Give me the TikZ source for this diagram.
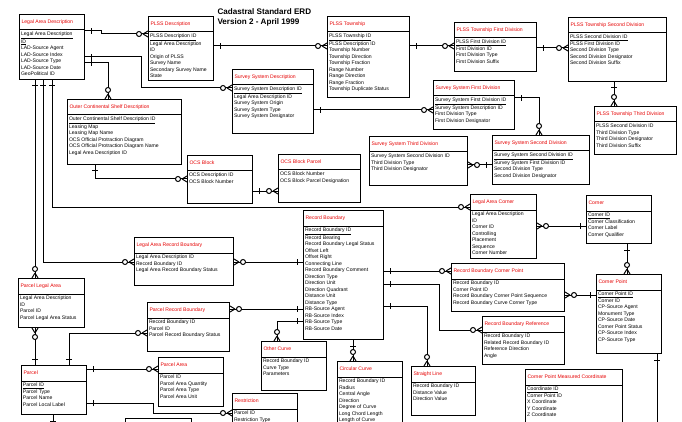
\documentclass[tikz,border=0pt]{standalone}
\usepackage{fontspec}
\setmainfont{Liberation Sans}
\usetikzlibrary{decorations.markings}
\begin{document}
\begin{tikzpicture}[x=1pt, y=-1pt, line width=1pt,
  every node/.style = {font=\fontsize{5.1}{6.5}\selectfont},
  entity/.style = {draw, rectangle, anchor=north west, inner sep=0pt},
  head/.style = {anchor=west, inner sep=0pt, text=red!90!black},
  attrs/.style = {anchor=north west, inner sep=0pt, align=left},
  one/.style = {postaction={decorate, decoration={markings,
    mark=at position 6pt with {\draw (0pt,-3pt) -- (0pt,3pt);}}}},
  onemany/.style = {one, postaction={decorate, decoration={markings,
    mark=at position 1 with {\draw (-5pt,0pt) -- (0pt,3pt) (-5pt,0pt) -- (0pt,-3pt);
      \draw[fill=white] (-9pt,0pt) circle (2.5pt);}}}}]
  \useasboundingbox (0,0) rectangle (682,422);
  \clip (0,0) rectangle (682,422);
  \node[anchor=north west, inner sep=0pt, align=left,
    font=\fontsize{8.1}{9.8}\selectfont\bfseries] (title) at (217,8)
    {Cadastral Standard ERD\\Version 2 - April 1999};
  \foreach \n/\x/\y/\w/\h/\ttl/\atts in {
    lad/19/14/65/65/{Legal Area Description}/{\underline{Legal Area Description}\\\underline{ID}\\LAD-Source Agent\\LAD-Source Index\\LAD-Source Type\\LAD-Source Date\\GeoPolitical ID},
    plssd/148/16/65/64/{PLSS Description}/{\underline{PLSS Description ID}\\Legal Area Description\\ID\\Origin of PLSS\\Survey Name\\Secondary Survey Name\\State},
    plsst/327/16/82/81/{PLSS Township}/{\underline{PLSS Township ID}\\PLSS Description ID\\Township Number\\Township Direction\\Township Fraction\\Range Number\\Range Direction\\Range Fraction\\Township Duplicate Status},
    plssfirst/454/22/82/49/{PLSS Township First Division}/{\underline{PLSS First Division ID}\\First Division ID\\First Division Type\\First Division Suffix},
    plsssecond/568/17/98/64/{PLSS Township Second Division}/{\underline{PLSS Second Division ID}\\PLSS First Division ID\\Second Division Type\\Second Division Designator\\Second Division Suffix},
    plssthird/594/106/82/48/{PLSS Township Third Division}/{PLSS Second Division ID\\Third Division Type\\Third Division Designator\\Third Division Suffix},
    ssd/232/69/81/64/{Survey System Description}/{\underline{Survey System Description ID}\\Legal Area Description ID\\Survey System Origin\\Survey System Type\\Survey System Designator},
    ssfirst/433/80/81/49/{Survey System First Division}/{\underline{Survey System First Division ID}\\Survey System Description ID\\First Division Type\\First Division Designator},
    sssecond/492/135/97/49/{Survey System Second Division}/{\underline{Survey System Second Division ID}\\Survey System First Division ID\\Second Division Type\\Second Division Designator},
    ssthird/369/136/98/49/{Survey System Third Division}/{Survey System Second Division ID\\Third Division Type\\Third Division Designator},
    ocsd/67/99/114/65/{Outer Continental Shelf Description}/{\underline{Outer Continental Shelf Description ID}\\Leasing Map\\Leasing Map Name\\OCS Official Protraction Diagram\\OCS Official Protraction Diagram Name\\Legal Area Description ID},
    ocsblock/187/155/65/48/{OCS Block}/{OCS Description ID\\OCS Block Number},
    ocsparcel/278/154/82/48/{OCS Block Parcel}/{OCS Block Number\\OCS Block Parcel Designation},
    larb/134/237/99/48/{Legal Area Record Boundary}/{Legal Area Description ID\\Record Boundary ID\\Legal Area Record Boundary Status},
    rb/303/210/80/129/{Record Boundary}/{\underline{Record Boundary ID}\\Record Bearing\\Record Boundary Legal Status\\Offset Left\\Offset Right\\Connecting Line\\Record Boundary Comment\\Direction Type\\Direction Unit\\Direction Quadrant\\Distance Unit\\Distance Type\\RB-Source Agent\\RB-Source Index\\RB-Source Type\\RB-Source Date},
    lac/470/194/66/64/{Legal Area Corner}/{Legal Area Description\\ID\\Corner ID\\Controlling\\Placement\\Sequence\\Corner Number},
    corner/586/195/65/48/{Corner}/{\underline{Corner ID}\\Corner Classification\\Corner Label\\Corner Qualifier},
    rbcp/451/263/113/48/{Record Boundary Corner Point}/{Record Boundary ID\\Corner Point ID\\Record Boundary Corner Point Sequence\\Record Boundary Curve Corner Type},
    cpoint/596/274/65/79/{Corner Point}/{\underline{Corner Point ID}\\Corner ID\\CP-Source Agent\\Monument Type\\CP-Source Date\\Corner Point Status\\CP-Source Index\\CP-Source Type},
    rbref/482/316/82/48/{Record Boundary Reference}/{Record Boundary ID\\Related Record Boundary ID\\Reference Direction\\Angle},
    cpmc/525/369/97/80/{Corner Point Measured Coordinate}/{\underline{Coordinate ID}\\Corner Point ID\\X Coordinate\\Y Coordinate\\Z Coordinate},
    sline/411/366/64/49/{Straight Line}/{Record Boundary ID\\Distance Value\\Direction Value},
    ccurve/337/361/65/80/{Circular Curve}/{Record Boundary ID\\Radius\\Central Angle\\Direction\\Degree of Curve\\Long Chord Length\\Length of Curve},
    ocurve/261/341/65/49/{Other Curve}/{Record Boundary ID\\Curve Type\\Parameters},
    pla/18/278/66/49/{Parcel Legal Area}/{Legal Area Description\\ID\\Parcel ID\\Parcel Legal Area Status},
    parcel/21/365/65/49/{Parcel}/{\underline{Parcel ID}\\Parcel Type\\Parcel Name\\Parcel Local Label},
    prb/147/302/82/49/{Parcel Record Boundary}/{Record Boundary ID\\Parcel ID\\Parcel Record Boundary Status},
    parea/158/357/65/49/{Parcel Area}/{Parcel ID\\Parcel Area Quantity\\Parcel Area Type\\Parcel Area Unit},
    restr/232/393/65/49/{Restriction}/{Parcel ID\\Restriction Type},
    lower/125/418/66/40/{}/{}} {
    \node[entity, minimum width=\w pt, minimum height=\h pt] (\n) at (\x,\y) {};
    \draw (\n.north west) ++(0,16) -- ++(\w,0);
    \node[head] at ([xshift=2pt,yshift=-8pt]\n.north west) {\ttl};
    \node[attrs] at ([xshift=1.5pt,yshift=-17.5pt]\n.north west) {\atts};
  }
  \draw[onemany] ([yshift=-17pt]lad.north east) -- ++(16,0) |- ([yshift=-18pt]plssd.north west);
  \draw[onemany] ([yshift=-43pt]lad.north east) -- ++(56,0) |- ([yshift=-19pt]ssd.north west);
  \draw[onemany] ([yshift=-49pt]lad.north east) -| ([xshift=41pt]ocsd.north west);
  \draw[onemany] ([xshift=33pt]lad.south west) |- ([yshift=-13pt]lac.north west);
  \draw[onemany] ([xshift=24pt]lad.south west) |- ([yshift=-25pt]larb.north west);
  \draw[onemany] ([xshift=16pt]lad.south west) -- ([xshift=17pt]pla.north west);
  \draw[onemany] ([yshift=-30pt]plssd.north east) -- ([yshift=-30pt]plsst.north west);
  \draw[onemany] ([yshift=-30pt]plsst.north east) -- ([yshift=-24pt]plssfirst.north west);
  \draw[onemany] ([yshift=-26pt]plssfirst.north east) -- ([yshift=-31pt]plsssecond.north west);
  \draw[onemany] ([xshift=46pt]plsssecond.south west) -- ([xshift=20pt]plssthird.north west);
  \draw[onemany] ([yshift=-41pt]ssd.north east) -- ([yshift=-30pt]ssfirst.north west);
  \draw[onemany] ([yshift=-18pt]ssfirst.north east) -| ([xshift=47pt]sssecond.north west);
  \draw[onemany] ([yshift=-30pt]sssecond.north west) -- ([yshift=-29pt]ssthird.north east);
  \draw[onemany] ([xshift=28pt]ocsd.south west) |- ([yshift=-24pt]ocsblock.north west);
  \draw[onemany] ([yshift=-36pt]ocsblock.north east) -- ([yshift=-37pt]ocsparcel.north west);
  \draw[onemany] ([yshift=-52pt]rb.north west) -- ([yshift=-25pt]larb.north east);
  \draw[onemany] ([yshift=-99pt]rb.north west) -- ([yshift=-7pt]prb.north east);
  \draw[onemany] ([yshift=-111pt]rb.north west) -| ([xshift=16pt]ocurve.north west);
  \draw[onemany] ([xshift=50pt]rb.south west) -- ([xshift=16pt]ccurve.north west);
  \draw[onemany] ([yshift=-96pt]rb.north east) -| ([xshift=16pt]sline.north west);
  \draw[onemany] ([yshift=-61pt]rb.north east) -- ([yshift=-8pt]rbcp.north west);
  \draw[onemany] ([yshift=-74pt]rb.north east) -- ++(55,0) |- ([yshift=-14pt]rbref.north west);
  \draw[onemany] ([yshift=-31pt]corner.north west) -- ([yshift=-32pt]lac.north east);
  \draw[onemany] ([xshift=41pt]corner.south west) -- ([xshift=31pt]cpoint.north west);
  \draw[onemany] ([yshift=-21pt]cpoint.north west) -- ([yshift=-32pt]rbcp.north east);
  \draw[onemany] ([xshift=61pt]cpoint.south west) |- ([yshift=-59pt]cpmc.north east);
  \draw[onemany] ([xshift=14pt]parcel.north west) -- ([xshift=17pt]pla.south west);
  \draw[onemany] ([xshift=48pt]parcel.north west) |- ([yshift=-31pt]prb.north west);
  \draw[onemany] ([yshift=-4pt]parcel.north east) -- ([yshift=-12pt]parea.north west);
  \draw[onemany] ([yshift=-38pt]parcel.north east) -- ++(66,0) |- ([yshift=-20pt]restr.north west);
  \coordinate (parcelout) at (53,440);
  \draw[one] ([xshift=32pt]parcel.south west) -- (parcelout);
\end{tikzpicture}
\end{document}
